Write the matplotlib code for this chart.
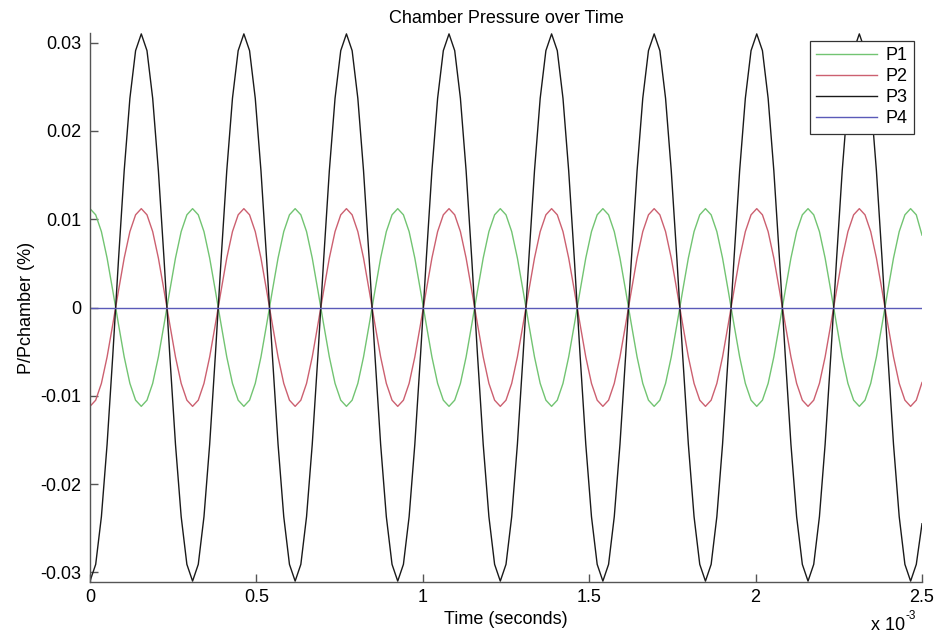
import numpy as np
import matplotlib
matplotlib.use('Agg')
import matplotlib.pyplot as plt
from matplotlib.ticker import FuncFormatter, FixedLocator

# ---------------- data ----------------
title_text = 'Chamber Pressure over Time'
xlabel_text = 'Time (seconds)'
ylabel_text = 'P/Pchamber (%)'
series_names = ['P1', 'P2', 'P3', 'P4']

t_start = 0.0
t_end = 2.5e-3
n_samples = 147
time = np.linspace(t_start, t_end, n_samples)

p1 = [
    0.0112, 0.0105, 0.0086, 0.0056, 0.0019, -0.0019, -0.0056, -0.0086, -0.0105, -0.0112, -0.0105, -0.0086, -0.0056, -0.0019, 0.0019, 0.0056, 0.0086, 0.0105,
    0.0112, 0.0105, 0.0086, 0.0056, 0.0019, -0.0019, -0.0056, -0.0086, -0.0105, -0.0112, -0.0105, -0.0086, -0.0056, -0.0019, 0.0019, 0.0056, 0.0086, 0.0105,
    0.0112, 0.0105, 0.0086, 0.0056, 0.0019, -0.0019, -0.0056, -0.0086, -0.0105, -0.0112, -0.0105, -0.0086, -0.0056, -0.0019, 0.0019, 0.0056, 0.0086, 0.0105,
    0.0112, 0.0105, 0.0086, 0.0056, 0.0019, -0.0019, -0.0056, -0.0086, -0.0105, -0.0112, -0.0105, -0.0086, -0.0056, -0.0019, 0.0019, 0.0056, 0.0086, 0.0105,
    0.0112, 0.0105, 0.0086, 0.0056, 0.0019, -0.0019, -0.0056, -0.0086, -0.0105, -0.0112, -0.0105, -0.0086, -0.0056, -0.0019, 0.0019, 0.0056, 0.0086, 0.0105,
    0.0112, 0.0105, 0.0086, 0.0056, 0.0019, -0.0019, -0.0056, -0.0086, -0.0105, -0.0112, -0.0105, -0.0086, -0.0056, -0.0019, 0.0019, 0.0056, 0.0086, 0.0105,
    0.0112, 0.0105, 0.0086, 0.0056, 0.0019, -0.0019, -0.0056, -0.0086, -0.0105, -0.0112, -0.0105, -0.0086, -0.0056, -0.0019, 0.0019, 0.0056, 0.0086, 0.0105,
    0.0112, 0.0105, 0.0086, 0.0056, 0.0019, -0.0019, -0.0056, -0.0086, -0.0105, -0.0112, -0.0105, -0.0086, -0.0056, -0.0019, 0.0019, 0.0056, 0.0086, 0.0105,
    0.0112, 0.0105, 0.0082,
]

p2 = [
    -0.0112, -0.0105, -0.0086, -0.0056, -0.0019, 0.0019, 0.0056, 0.0086, 0.0105, 0.0112, 0.0105, 0.0086, 0.0056, 0.0019, -0.0019, -0.0056, -0.0086, -0.0105,
    -0.0112, -0.0105, -0.0086, -0.0056, -0.0019, 0.0019, 0.0056, 0.0086, 0.0105, 0.0112, 0.0105, 0.0086, 0.0056, 0.0019, -0.0019, -0.0056, -0.0086, -0.0105,
    -0.0112, -0.0105, -0.0086, -0.0056, -0.0019, 0.0019, 0.0056, 0.0086, 0.0105, 0.0112, 0.0105, 0.0086, 0.0056, 0.0019, -0.0019, -0.0056, -0.0086, -0.0105,
    -0.0112, -0.0105, -0.0086, -0.0056, -0.0019, 0.0019, 0.0056, 0.0086, 0.0105, 0.0112, 0.0105, 0.0086, 0.0056, 0.0019, -0.0019, -0.0056, -0.0086, -0.0105,
    -0.0112, -0.0105, -0.0086, -0.0056, -0.0019, 0.0019, 0.0056, 0.0086, 0.0105, 0.0112, 0.0105, 0.0086, 0.0056, 0.0019, -0.0019, -0.0056, -0.0086, -0.0105,
    -0.0112, -0.0105, -0.0086, -0.0056, -0.0019, 0.0019, 0.0056, 0.0086, 0.0105, 0.0112, 0.0105, 0.0086, 0.0056, 0.0019, -0.0019, -0.0056, -0.0086, -0.0105,
    -0.0112, -0.0105, -0.0086, -0.0056, -0.0019, 0.0019, 0.0056, 0.0086, 0.0105, 0.0112, 0.0105, 0.0086, 0.0056, 0.0019, -0.0019, -0.0056, -0.0086, -0.0105,
    -0.0112, -0.0105, -0.0086, -0.0056, -0.0019, 0.0019, 0.0056, 0.0086, 0.0105, 0.0112, 0.0105, 0.0086, 0.0056, 0.0019, -0.0019, -0.0056, -0.0086, -0.0105,
    -0.0112, -0.0105, -0.0085,
]

p3 = [
    -0.0310, -0.0291, -0.0237, -0.0155, -0.0054, 0.0054, 0.0155, 0.0237, 0.0291, 0.0310, 0.0291, 0.0237, 0.0155, 0.0054, -0.0054, -0.0155, -0.0237, -0.0291,
    -0.0310, -0.0291, -0.0237, -0.0155, -0.0054, 0.0054, 0.0155, 0.0237, 0.0291, 0.0310, 0.0291, 0.0237, 0.0155, 0.0054, -0.0054, -0.0155, -0.0237, -0.0291,
    -0.0310, -0.0291, -0.0237, -0.0155, -0.0054, 0.0054, 0.0155, 0.0237, 0.0291, 0.0310, 0.0291, 0.0237, 0.0155, 0.0054, -0.0054, -0.0155, -0.0237, -0.0291,
    -0.0310, -0.0291, -0.0237, -0.0155, -0.0054, 0.0054, 0.0155, 0.0237, 0.0291, 0.0310, 0.0291, 0.0237, 0.0155, 0.0054, -0.0054, -0.0155, -0.0237, -0.0291,
    -0.0310, -0.0291, -0.0237, -0.0155, -0.0054, 0.0054, 0.0155, 0.0237, 0.0291, 0.0310, 0.0291, 0.0237, 0.0155, 0.0054, -0.0054, -0.0155, -0.0237, -0.0291,
    -0.0310, -0.0291, -0.0237, -0.0155, -0.0054, 0.0054, 0.0155, 0.0237, 0.0291, 0.0310, 0.0291, 0.0237, 0.0155, 0.0054, -0.0054, -0.0155, -0.0237, -0.0291,
    -0.0310, -0.0291, -0.0237, -0.0155, -0.0054, 0.0054, 0.0155, 0.0237, 0.0291, 0.0310, 0.0291, 0.0237, 0.0155, 0.0054, -0.0054, -0.0155, -0.0237, -0.0291,
    -0.0310, -0.0291, -0.0237, -0.0155, -0.0054, 0.0054, 0.0155, 0.0237, 0.0291, 0.0310, 0.0291, 0.0237, 0.0155, 0.0054, -0.0054, -0.0155, -0.0237, -0.0291,
    -0.0310, -0.0291, -0.0245,
]

p4 = [
    0.0, 0.0, 0.0, 0.0, 0.0, 0.0, 0.0, 0.0, 0.0, 0.0, 0.0, 0.0, 0.0, 0.0, 0.0, 0.0, 0.0, 0.0,
    0.0, 0.0, 0.0, 0.0, 0.0, 0.0, 0.0, 0.0, 0.0, 0.0, 0.0, 0.0, 0.0, 0.0, 0.0, 0.0, 0.0, 0.0,
    0.0, 0.0, 0.0, 0.0, 0.0, 0.0, 0.0, 0.0, 0.0, 0.0, 0.0, 0.0, 0.0, 0.0, 0.0, 0.0, 0.0, 0.0,
    0.0, 0.0, 0.0, 0.0, 0.0, 0.0, 0.0, 0.0, 0.0, 0.0, 0.0, 0.0, 0.0, 0.0, 0.0, 0.0, 0.0, 0.0,
    0.0, 0.0, 0.0, 0.0, 0.0, 0.0, 0.0, 0.0, 0.0, 0.0, 0.0, 0.0, 0.0, 0.0, 0.0, 0.0, 0.0, 0.0,
    0.0, 0.0, 0.0, 0.0, 0.0, 0.0, 0.0, 0.0, 0.0, 0.0, 0.0, 0.0, 0.0, 0.0, 0.0, 0.0, 0.0, 0.0,
    0.0, 0.0, 0.0, 0.0, 0.0, 0.0, 0.0, 0.0, 0.0, 0.0, 0.0, 0.0, 0.0, 0.0, 0.0, 0.0, 0.0, 0.0,
    0.0, 0.0, 0.0, 0.0, 0.0, 0.0, 0.0, 0.0, 0.0, 0.0, 0.0, 0.0, 0.0, 0.0, 0.0, 0.0, 0.0, 0.0,
    0.0, 0.0, 0.0,
]

x_ticks = [0.0, 0.5e-3, 1.0e-3, 1.5e-3, 2.0e-3, 2.5e-3]
y_ticks = [-0.03, -0.02, -0.01, 0.0, 0.01, 0.02, 0.03]
x_limits = (0.0, 2.5e-3)
y_limits = (-0.0311, 0.0311)
x_scale_label = 'x 10'
x_scale_exp = '-3'

# ---------------- style ----------------
plt.rcParams['font.family'] = ['Liberation Sans', 'DejaVu Sans']
FS = 13
axis_color = '#555555'
colors = ['#72c472', '#cc6070', '#1a1a1a', '#5a5ab8']

fig = plt.figure(figsize=(9.4, 6.34), dpi=100)
W, H = 940.0, 634.0
ax = fig.add_axes([90 / W, 1 - 582 / H, 832 / W, 549 / H])

series = [p1, p2, p3, p4]
for name, vals, c in zip(series_names, series, colors):
    ax.plot(time, vals, color=c, lw=1.0, label=name)

ax.set_xlim(*x_limits)
ax.set_ylim(*y_limits)
ax.xaxis.set_major_locator(FixedLocator(x_ticks))
ax.yaxis.set_major_locator(FixedLocator(y_ticks))
ax.xaxis.set_major_formatter(FuncFormatter(lambda v, p: f'{round(v * 1e3, 6):g}'))
ax.yaxis.set_major_formatter(FuncFormatter(lambda v, p: f'{round(v, 6):g}'))

for s in ['top', 'right']:
    ax.spines[s].set_visible(False)
for s in ['left', 'bottom']:
    ax.spines[s].set_color(axis_color)
    ax.spines[s].set_linewidth(1.0)

ax.tick_params(direction='in', length=5.5, width=1.0, color=axis_color,
               labelsize=FS, labelcolor='black')
ax.tick_params(axis='x', pad=5)
ax.tick_params(axis='y', pad=6)

ax.set_title(title_text, fontsize=FS, pad=7)
ax.set_xlabel(xlabel_text, fontsize=FS)
ax.set_ylabel(ylabel_text, fontsize=FS)
ax.xaxis.set_label_coords(0.5, -0.052)
ax.yaxis.set_label_coords(-0.066, 0.5)

# MATLAB-style exponent note
fig.text(905 / W, 1 - 630 / H, x_scale_label, fontsize=FS, ha='right', va='baseline')
fig.text(905 / W, 1 - 619 / H, x_scale_exp, fontsize=FS * 0.65, ha='left', va='baseline')

leg = ax.legend(loc='upper right', bbox_to_anchor=(1.0, 1.0), fontsize=FS,
                frameon=True, fancybox=False, framealpha=1.0, edgecolor='#333333',
                borderaxespad=0.45, borderpad=0.35, handlelength=3.4,
                handletextpad=0.45, labelspacing=0.22)
leg.get_frame().set_linewidth(0.9)

fig.savefig('out.png', dpi=100, facecolor='white')
